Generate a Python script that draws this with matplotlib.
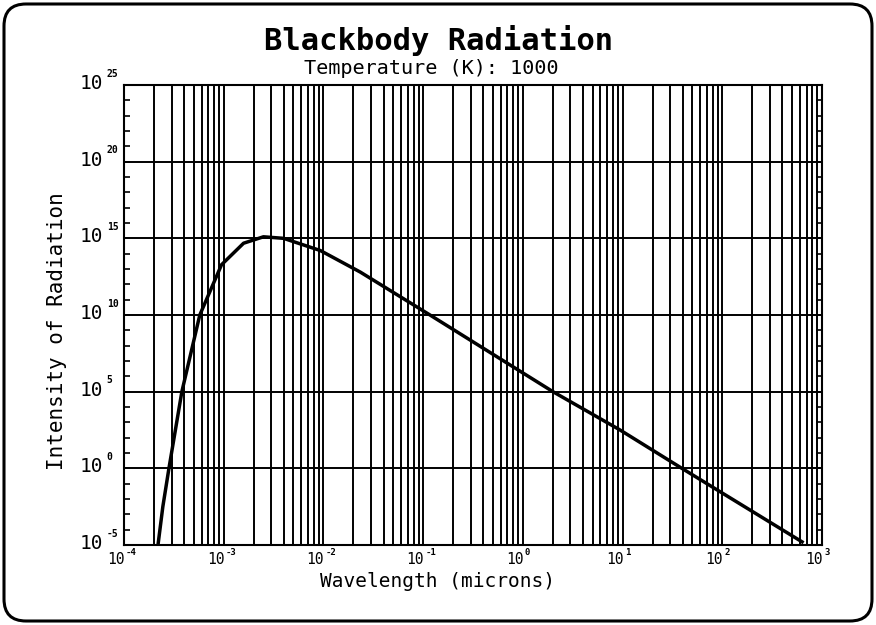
import matplotlib
matplotlib.use("Agg")
import matplotlib.pyplot as plt
import numpy as np
from matplotlib.patches import FancyBboxPatch
from matplotlib.ticker import FixedLocator, LogLocator, NullFormatter
from matplotlib.transforms import blended_transform_factory, offset_copy

plt.rcParams["font.family"] = ["DejaVu Sans Mono"]

# values
wavelength = [2.19e-4, 2.45e-4, 2.82e-4, 3.8e-4, 5.75e-4, 9.5e-4, 1.58e-3, 2.5e-3,
              3.98e-3, 9.3e-3, 2.34e-2, 0.117, 2.0, 9.4, 39.3, 631.0]
intensity = [1e-5, 3.2e-3, 1.0, 1e5, 1e10, 1.9e13, 4.8e14, 1.26e15,
             1.0e15, 1.6e14, 6.3e12, 1e10, 1e5, 3.2e2, 1.0, 1.6e-5]

x_decades = [-4, -3, -2, -1, 0, 1, 2, 3]
y_decades = [-5, 0, 5, 10, 15, 20, 25]

fig = plt.figure(figsize=(8.76, 6.25), dpi=100)
ax = fig.add_axes([0.1416, 0.128, 0.7968, 0.736])
ax.set_xscale("log")
ax.set_yscale("log")
ax.set_xlim(1e-4, 1e3)
ax.set_ylim(1e-5, 1e25)

ax.xaxis.set_major_locator(LogLocator(base=10, numticks=20))
ax.xaxis.set_minor_locator(LogLocator(base=10, subs=np.arange(2, 10), numticks=20))
ax.yaxis.set_major_locator(FixedLocator([10.0 ** e for e in y_decades]))
ax.yaxis.set_minor_locator(LogLocator(base=10, subs=[1.0], numticks=40))
ax.xaxis.set_major_formatter(NullFormatter())
ax.xaxis.set_minor_formatter(NullFormatter())
ax.yaxis.set_major_formatter(NullFormatter())
ax.yaxis.set_minor_formatter(NullFormatter())

ax.grid(True, which="both", axis="x", color="black", lw=1.4)
ax.grid(True, which="major", axis="y", color="black", lw=1.4)
ax.tick_params(axis="x", which="both", length=0)
ax.tick_params(axis="y", which="both", direction="in", left=True, right=True,
               length=4, width=1.2)
for s in ax.spines.values():
    s.set_linewidth(1.5)

ax.plot(wavelength, intensity, color="black", lw=2.5, zorder=3, clip_on=True)

# tick labels drawn as "10" plus a small exponent, plotter style
ytrans = blended_transform_factory(ax.transAxes, ax.transData)
for e in y_decades:
    v = 10.0 ** e
    ax.text(0, v, "10", fontsize=14, ha="right", va="center",
            transform=offset_copy(ytrans, fig=fig, x=-15, y=1, units="points"))
    ax.text(0, v, str(e), fontsize=7, fontweight="bold", ha="left", va="bottom",
            transform=offset_copy(ytrans, fig=fig, x=-12.5, y=4.5, units="points"))

xtrans = blended_transform_factory(ax.transData, ax.transAxes)
for e in x_decades:
    v = 10.0 ** e
    ax.text(v, 0, "10", fontsize=10.5, ha="right", va="top",
            transform=offset_copy(xtrans, fig=fig, x=0.5, y=-5, units="points"))
    ax.text(v, 0, str(e), fontsize=6.5, fontweight="bold", ha="left", va="top",
            transform=offset_copy(xtrans, fig=fig, x=1.5, y=-2.5, units="points"))

fig.text(0.501, 0.936, "Blackbody Radiation", fontsize=22, fontweight="bold",
         ha="center", va="center")
fig.text(0.492, 0.891, "Temperature (K): 1000", fontsize=14.5, ha="center", va="center")
fig.text(0.5, 0.069, "Wavelength (microns)", fontsize=14, ha="center", va="center")
fig.text(0.065, 0.47, "Intensity of Radiation", fontsize=15, rotation=90,
         ha="center", va="center")

frame = FancyBboxPatch((4, 4), 868, 617, boxstyle="round,pad=0,rounding_size=22",
                       transform=None, fill=False, lw=2.2, edgecolor="black")
fig.patches.append(frame)

fig.savefig("out.png", dpi=100)
